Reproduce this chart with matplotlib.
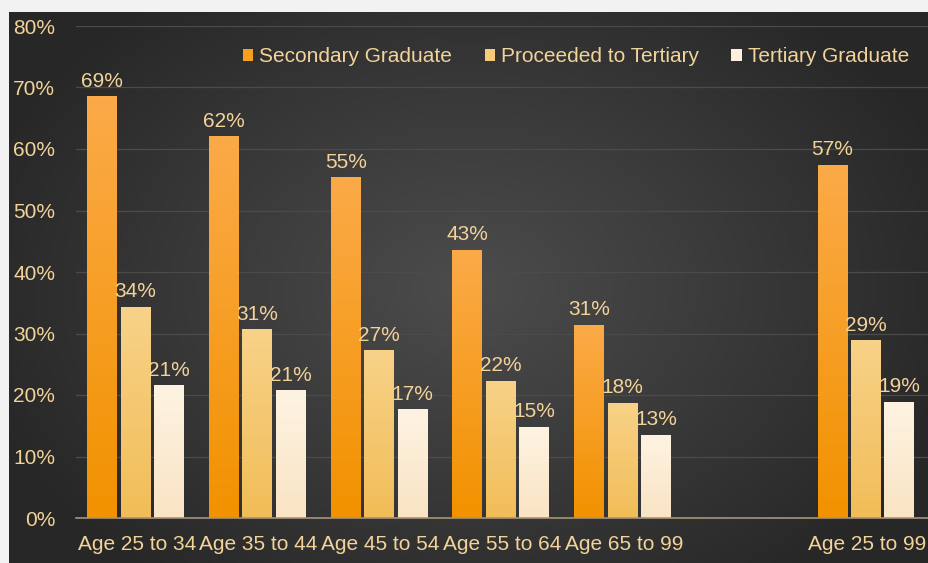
import numpy as np
import matplotlib
matplotlib.use("Agg")
import matplotlib.pyplot as plt
from matplotlib.colors import LinearSegmentedColormap
from matplotlib.patches import Patch

plt.rcParams['font.family'] = ['Liberation Sans', 'DejaVu Sans']

categories = ["Age 25 to 34", "Age 35 to 44", "Age 45 to 54", "Age 55 to 64",
              "Age 65 to 99", "", "Age 25 to 99"]
series_names = ["Secondary Graduate", "Proceeded to Tertiary", "Tertiary Graduate"]
secondary = [0.686, 0.621, 0.554, 0.436, 0.314, None, 0.574]
proceeded = [0.343, 0.307, 0.273, 0.223, 0.187, None, 0.289]
tertiary = [0.216, 0.208, 0.177, 0.148, 0.135, None, 0.189]
labels_sec = ["69%", "62%", "55%", "43%", "31%", None, "57%"]
labels_pro = ["34%", "31%", "27%", "22%", "18%", None, "29%"]
labels_ter = ["21%", "21%", "17%", "15%", "13%", None, "19%"]

W, H = 929, 563
fig = plt.figure(figsize=(W / 100, H / 100), dpi=100)
fig.patch.set_facecolor('#f2f2f2')

# background panel with soft radial gradient
bg = fig.add_axes([9 / W, 0, (W - 9) / W, (H - 12) / H])
bg.set_axis_off()
yy, xx = np.mgrid[0:1:200j, 0:1:300j]
r = np.sqrt(((xx - 0.5) / 0.75) ** 2 + ((yy - 0.5) / 0.9) ** 2)
bgcmap = LinearSegmentedColormap.from_list('bg', ['#4c4c4c', '#3a3a3a', '#272727'])
bg.imshow(r, cmap=bgcmap, aspect='auto', extent=[0, 1, 0, 1], vmin=0, vmax=0.75)
bg.set_xlim(0, 1)
bg.set_ylim(0, 1)

ax = fig.add_axes([76 / W, 45 / H, (928 - 76) / W, (537 - 45) / H])
ax.patch.set_alpha(0)

text_color = '#f2d39a'
grads = [('#fbaa48', '#f29200'), ('#f8d288', '#f1bd58'), ('#fef3e2', '#f9e4c4')]
base_colors = ['#f59a1a', '#f5c66c', '#fbecd4']
series = [secondary, proceeded, tertiary]
labels = [labels_sec, labels_pro, labels_ter]
offsets = [-0.285, -0.01, 0.265]
bw = 0.245

x = np.arange(len(categories))
for s, (vals, labs) in enumerate(zip(series, labels)):
    xs = [xi + offsets[s] for xi, v in zip(x, vals) if v is not None]
    vs = [v for v in vals if v is not None]
    ls = [l for l in labs if l is not None]
    bars = ax.bar(xs, vs, width=bw, color=base_colors[s], zorder=3,
                  label=series_names[s])
    cmap = LinearSegmentedColormap.from_list('g%d' % s, [grads[s][1], grads[s][0]])
    for b in bars:
        x0, y0 = b.get_x(), b.get_y()
        w, h = b.get_width(), b.get_height()
        grad = np.linspace(0, 1, 100).reshape(-1, 1)
        im = ax.imshow(grad, cmap=cmap, aspect='auto', origin='lower',
                       extent=[x0, x0 + w, y0, y0 + h], zorder=3.5)
        im.set_clip_path(b)
    for xi, v, l in zip(xs, vs, ls):
        ax.annotate(l, (xi, v), xytext=(0, 4), textcoords='offset points',
                    ha='center', va='bottom', color=text_color, fontsize=15,
                    zorder=5)

ax.set_xlim(-0.5, len(categories) - 0.5)
ax.set_ylim(0, 0.8)
ax.set_yticks(np.arange(0, 0.81, 0.1))
ax.set_yticklabels([f"{int(round(t * 100))}%" for t in np.arange(0, 0.81, 0.1)])
ax.set_xticks(x)
ax.set_xticklabels(categories)
ax.tick_params(axis='both', length=0, colors=text_color, labelsize=15)
ax.tick_params(axis='y', pad=15)
ax.tick_params(axis='x', pad=12)
ax.grid(axis='y', color='#4b4b4b', linewidth=0.9, zorder=0)
for sp in ['top', 'right', 'left']:
    ax.spines[sp].set_visible(False)
ax.spines['bottom'].set_color('#a89478')
ax.spines['bottom'].set_linewidth(1.2)
ax.spines['bottom'].set_zorder(4)

handles = [Patch(facecolor=c, edgecolor='none') for c in ['#f7a020', '#f7cc78', '#fcf0dc']]
leg = fig.legend(handles, series_names, loc='center right',
                 bbox_to_anchor=(924 / W, (H - 57) / H), ncol=3, frameon=False,
                 handlelength=0.5, handleheight=0.5, handletextpad=0.3,
                 columnspacing=1.55, fontsize=15, labelcolor=text_color,
                 borderpad=0.2)

fig.savefig('out.png', dpi=100, facecolor=fig.get_facecolor())
